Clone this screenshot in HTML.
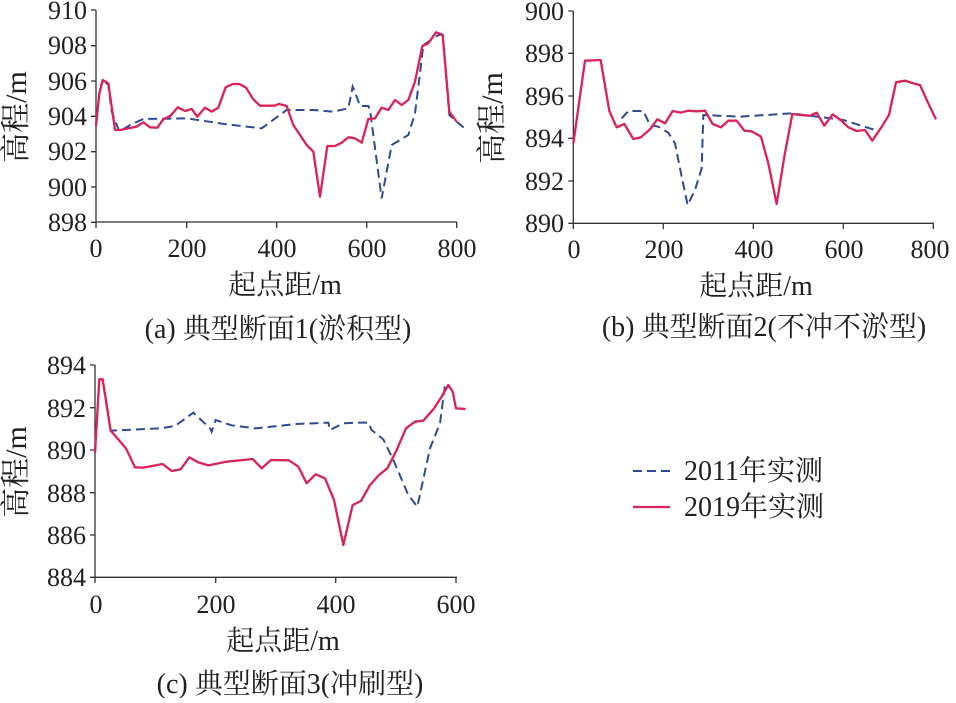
<!DOCTYPE html>
<html><head><meta charset="utf-8"><style>
body{margin:0;background:#fff}
svg text{font-family:"Liberation Serif","Noto Serif CJK SC",serif;fill:#231f20}
</style></head><body>
<svg width="956" height="698" viewBox="0 0 956 698" xmlns="http://www.w3.org/2000/svg">
<defs>
<style>.r{fill:none;stroke:#d9245a;stroke-width:7;stroke-linejoin:round}.b{fill:none;stroke:#2e4a94;stroke-width:6;stroke-dasharray:27 15}.ax{fill:none;stroke:#333;stroke-width:1.3}</style>
</defs>
<!-- Panel a -->
<g class="ax">
<path d="M96,10V222H457"/>
<path d="M96,10h-5M96,45.7h-5M96,81h-5M96,116.3h-5M96,151.7h-5M96,187h-5M96,222.3h-5"/>
<path d="M96,222v6M186.7,222v6M276.7,222v6M366.7,222v6M456.7,222v6"/>
</g>
<g font-size="26" text-anchor="end">
<text x="87" y="19">910</text><text x="87" y="54">908</text><text x="87" y="90">906</text><text x="87" y="125">904</text><text x="87" y="160">902</text><text x="87" y="196">900</text><text x="87" y="231">898</text>
</g>
<g font-size="26" text-anchor="middle">
<text x="96" y="257">0</text><text x="187" y="257">200</text><text x="277" y="257">400</text><text x="367" y="257">600</text><text x="457" y="257">800</text>
</g>
<text x="285" y="294" font-size="28" text-anchor="middle">起点距/m</text>
<text transform="translate(26,117) rotate(-90)" font-size="30" text-anchor="middle">高程/m</text>
<text x="278" y="338" font-size="28" text-anchor="middle">(a) 典型断面1(淤积型)</text>
<g transform="translate(80,0) scale(0.33333)">
<polyline class="b" points="60,270 70,240 85,255 95,335 118,395 150,375 190,357 320,355 440,373 545,385 620,330 700,330 760,335 805,325 818,260 830,290 840,318 865,318 870,330 905,595 935,435 985,405 1005,340 1020,220 1030,135 1075,105 1088,104 1108,345 1130,365 1160,390"/>
<polyline class="r" points="48,378 58,280 68,240 85,250 105,390 120,390 170,380 190,367 210,382 232,383 250,358 272,347 293,322 315,333 335,327 352,350 375,323 395,335 415,323 437,262 458,252 478,252 498,263 520,298 540,317 583,317 598,312 620,318 640,375 660,405 680,435 700,455 720,590 742,438 765,438 785,428 805,412 825,415 845,428 865,357 885,355 905,323 925,330 945,300 965,315 985,300 1005,245 1027,138 1045,130 1068,97 1088,104 1108,335 1130,365"/>
</g>
<!-- Panel b -->
<g class="ax">
<path d="M573.3,11V223.3H934"/>
<path d="M573.3,11h-5M573.3,53.3h-5M573.3,96h-5M573.3,138.3h-5M573.3,181h-5M573.3,223.3h-5"/>
<path d="M573.3,223v6M663.3,223v6M753.3,223v6M843.3,223v6M933.3,223v6"/>
</g>
<g font-size="26" text-anchor="end">
<text x="564" y="20">900</text><text x="564" y="62">898</text><text x="564" y="105">896</text><text x="564" y="147">894</text><text x="564" y="190">892</text><text x="564" y="232">890</text>
</g>
<g font-size="26" text-anchor="middle">
<text x="574" y="258">0</text><text x="664" y="258">200</text><text x="754" y="258">400</text><text x="844" y="258">600</text><text x="930" y="258">800</text>
</g>
<text x="756" y="295" font-size="28" text-anchor="middle">起点距/m</text>
<text transform="translate(502,118) rotate(-90)" font-size="30" text-anchor="middle">高程/m</text>
<text x="764" y="336" font-size="28" text-anchor="middle">(b) 典型断面2(不冲不淤型)</text>
<g transform="translate(560,0) scale(0.33333)">
<polyline class="b" points="185,355 205,333 250,333 270,375 295,380 325,398 345,430 365,530 383,615 405,570 425,505 430,345 540,350 695,340 850,360 945,390"/>
<polyline class="r" points="40,430 75,182 122,180 148,333 170,382 193,372 220,417 242,412 270,388 292,358 315,370 338,333 362,338 385,332 410,334 435,332 458,372 483,382 505,362 530,362 553,392 575,394 603,410 625,490 650,612 673,470 697,342 720,345 750,347 770,338 793,377 818,343 842,360 865,382 890,393 915,390 937,422 962,385 987,345 1008,247 1035,242 1060,250 1080,255 1105,310 1128,358"/>
</g>
<!-- Panel c -->
<g class="ax">
<path d="M95,365V577.3H457"/>
<path d="M95,365h-5M95,407.7h-5M95,450h-5M95,492.7h-5M95,535h-5M95,577.3h-5"/>
<path d="M95,577v6M215.7,577v6M335.7,577v6M456,577v6"/>
</g>
<g font-size="26" text-anchor="end">
<text x="86" y="374">894</text><text x="86" y="417">892</text><text x="86" y="459">890</text><text x="86" y="502">888</text><text x="86" y="544">886</text><text x="86" y="586">884</text>
</g>
<g font-size="26" text-anchor="middle">
<text x="96" y="613">0</text><text x="216" y="613">200</text><text x="336" y="613">400</text><text x="456" y="613">600</text>
</g>
<text x="283" y="650" font-size="28" text-anchor="middle">起点距/m</text>
<text transform="translate(26,472) rotate(-90)" font-size="30" text-anchor="middle">高程/m</text>
<text x="290" y="693" font-size="28" text-anchor="middle">(c) 典型断面3(冲刷型)</text>
<g transform="translate(80,360) scale(0.33333)">
<polyline class="b" points="45,278 58,58 68,58 80,140 92,212 240,205 285,198 340,158 390,205 395,215 407,180 455,196 525,205 575,200 650,192 745,188 750,210 790,190 830,188 865,188 875,210 910,238 940,300 985,405 1012,440 1050,265 1080,190 1095,75 1105,80"/>
<polyline class="r" points="45,278 58,58 68,58 92,212 138,265 165,322 190,323 248,312 275,333 302,328 328,292 355,307 385,316 440,305 490,300 518,297 545,325 573,300 627,301 655,320 680,370 707,343 735,355 762,420 790,555 818,435 843,423 870,375 897,345 922,325 950,270 978,205 1005,185 1030,182 1060,148 1085,110 1105,75 1118,95 1128,145 1157,147"/>
</g>
<!-- Legend -->
<line x1="633" y1="471" x2="670" y2="471" stroke="#2e4a94" stroke-width="2" stroke-dasharray="9 5"/>
<line x1="633" y1="507" x2="670" y2="507" stroke="#d9245a" stroke-width="2.3"/>
<text x="684" y="480" font-size="28">2011年实测</text>
<text x="684" y="516" font-size="28">2019年实测</text>
</svg>
</body></html>
